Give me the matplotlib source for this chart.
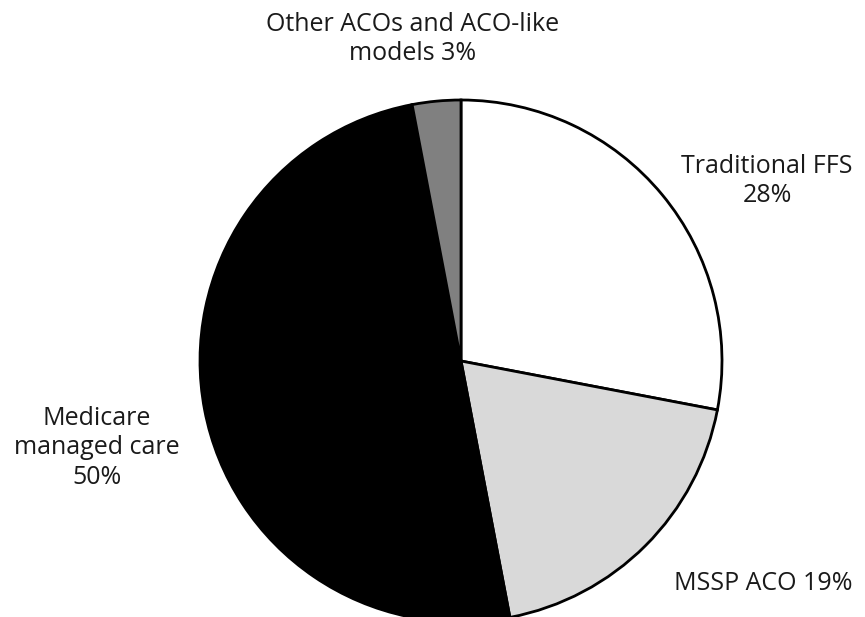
import matplotlib
matplotlib.use("Agg")
import matplotlib.pyplot as plt

# Share of beneficiaries by payment model
categories = ["Traditional FFS", "MSSP ACO", "Medicare managed care", "Other ACOs and ACO-like models"]
shares = [28, 19, 50, 3]
label_text = [
    "Traditional FFS\n28%",
    "MSSP ACO 19%",
    "Medicare\nmanaged care\n50%",
    "Other ACOs and ACO-like\nmodels 3%",
]
colors = ["#ffffff", "#d9d9d9", "#000000", "#808080"]

W, H = 865, 617
fig = plt.figure(figsize=(W / 100, H / 100), dpi=100)
ax = fig.add_axes([0, 0, 1, 1])

cx, cy, r = 461, H - 361, 261
ax.pie(shares, colors=colors, startangle=90, counterclock=False,
       center=(cx, cy), radius=r, frame=True,
       wedgeprops=dict(edgecolor="black", linewidth=2.0))
ax.set_xlim(0, W)
ax.set_ylim(0, H)
ax.set_aspect("equal")
ax.axis("off")

font = dict(family=["Open Sans", "DejaVu Sans"], fontsize=18, color="#1a1a1a",
            ha="center", va="center", linespacing=1.24)
label_pos = [(767, 181), (763, 584), (97, 448), (413, 39)]
for txt, (x, y) in zip(label_text, label_pos):
    ax.text(x, H - y, txt, **font)

fig.savefig("out.png", dpi=100, facecolor="white")
